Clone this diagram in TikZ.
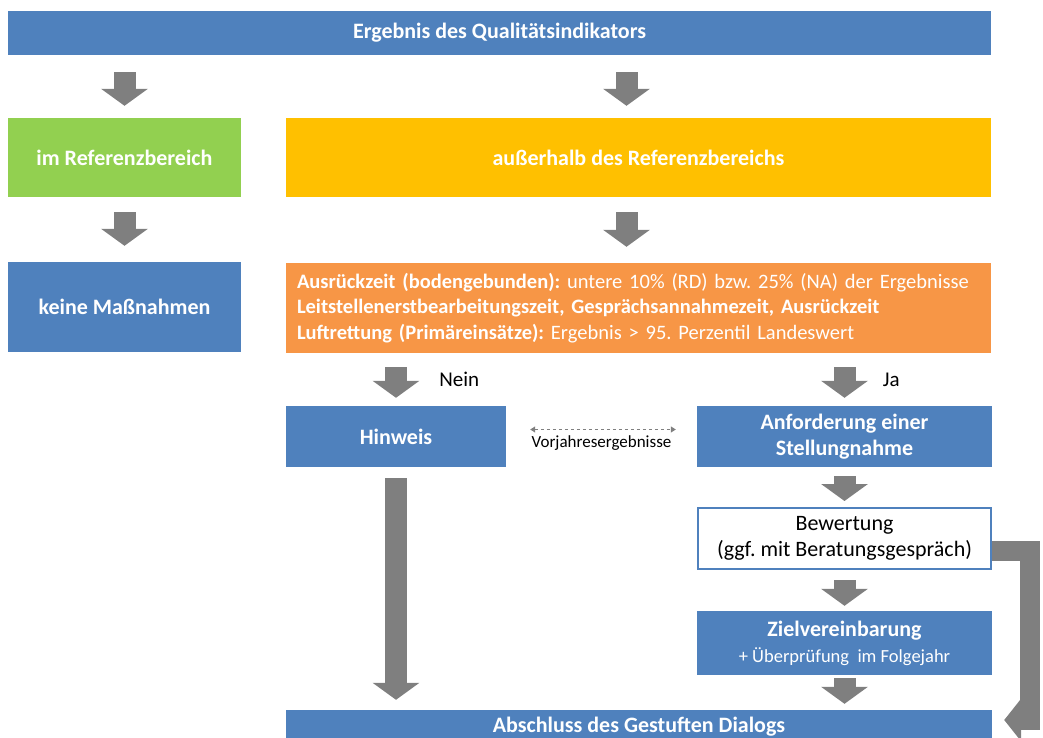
\documentclass[tikz,border=0pt]{standalone}
\usepackage{fontspec}
\setmainfont{Carlito}
\usetikzlibrary{
    arrows.meta,
    positioning
}
\definecolor{BoxBlue}{RGB}{79,129,189}
\definecolor{BoxGreen}{RGB}{146,208,80}
\definecolor{BoxYellow}{RGB}{255,192,0}
\definecolor{BoxOrange}{RGB}{247,150,70}
\definecolor{ArrowGray}{RGB}{127,127,127}

\begin{document}
\frenchspacing
\begin{tikzpicture}[
    x=1pt,
    y=-1pt,
    box/.style={
        inner sep=0pt,
        text=white,
        font=\fontsize{22}{26}\selectfont\bfseries,
        align=center
    },
    bigarrow/.style={
        draw=ArrowGray,
        line width=22pt,
        -{Triangle[width=46pt,length=17pt]}
    },
    thinlink/.style={
        draw=ArrowGray,
        dashed,
        line width=1pt,
        {Triangle[width=6pt,length=5pt]}-{Triangle[width=6pt,length=5pt]}
    }
]
\useasboundingbox (0,0) rectangle (1043,738);

% boxes
\node[box, fill=BoxBlue, minimum width=983pt, minimum height=44pt]
    (ergebnis) at (499.5,33) {Ergebnis des Qualitätsindikators};
\node[box, fill=BoxGreen, minimum width=233pt, minimum height=79pt]
    (imref) at (124.5,157.5) {im Referenzbereich};
\node[box, fill=BoxYellow, minimum width=705pt, minimum height=79pt]
    (ausser) at (638.5,157.5) {außerhalb des Referenzbereichs};
\node[box, fill=BoxBlue, minimum width=233pt, minimum height=90pt]
    (keine) at (124.5,307) {keine Maßnahmen};
\node[box, fill=BoxOrange, minimum width=705pt, minimum height=90pt,
    text width=683pt, align=left, font=\fontsize{20.5}{25.5}\selectfont]
    (kriterien) at (638.5,308)
    {\textbf{Ausrückzeit (bodengebunden):} untere 10\% (RD) bzw. 25\% (NA) der Ergebnisse\\
     \textbf{Leitstellenerstbearbeitungszeit, Gesprächsannahmezeit, Ausrückzeit}\\
     \textbf{Luftrettung (Primäreinsätze):} Ergebnis > 95. Perzentil Landeswert};
\node[box, fill=BoxBlue, minimum width=220pt, minimum height=61pt]
    (hinweis) at (396,436.5) {Hinweis};
\node[box, fill=BoxBlue, minimum width=295pt, minimum height=61pt]
    (anforderung) at (844.5,436.5) {Anforderung einer\\Stellungnahme};
\node[box, fill=white, draw=BoxBlue, line width=2pt, text=black,
    font=\fontsize{22}{26}\selectfont,
    minimum width=293pt, minimum height=61pt]
    (bewertung) at (844.5,538.5) {Bewertung\\(ggf. mit Beratungsgespräch)};
\node[box, fill=BoxBlue, minimum width=295pt, minimum height=64pt]
    (ziel) at (844.5,643)
    {Zielvereinbarung\\{\fontsize{18.5}{22}\selectfont\mdseries + Überprüfung~ im Folgejahr}};
\node[box, fill=BoxBlue, minimum width=706pt, minimum height=34pt]
    (abschluss) at (639,727) {Abschluss des Gestuften Dialogs};

% arrows
\draw[bigarrow, shorten <=17pt, shorten >=12pt] (ergebnis.south -| imref) -- (imref);
\draw[bigarrow, shorten <=17pt, shorten >=12pt]
    ([xshift=-12pt]ergebnis.south -| ausser) -- ([xshift=-12pt]ausser.north);
\draw[bigarrow, shorten <=15pt, shorten >=16pt] (imref) -- (keine);
\draw[bigarrow, shorten <=15pt, shorten >=16pt]
    ([xshift=-12pt]ausser.south) -- ([xshift=-12pt]ausser.south |- kriterien.north);
\draw[bigarrow, shorten <=14pt, shorten >=8pt] (kriterien.south -| hinweis) -- (hinweis)
    node[midway, right=29pt, text=black, font=\fontsize{21}{24}\selectfont] {Nein};
\draw[bigarrow, shorten <=14pt, shorten >=8pt] (kriterien.south -| anforderung) -- (anforderung)
    node[midway, right=24pt, text=black, font=\fontsize{21}{24}\selectfont] {Ja};
\draw[bigarrow, shorten <=11pt, shorten >=10pt] (hinweis) -- (hinweis |- abschluss.north);
\draw[bigarrow, shorten <=9pt, shorten >=6pt] (anforderung) -- (bewertung);
\draw[bigarrow, shorten <=10pt, shorten >=5pt] (bewertung) -- (ziel);
\draw[bigarrow, shorten <=3pt, shorten >=6pt] (ziel) -- (ziel |- abschluss.north);
\draw[bigarrow, line width=20pt, line join=miter, shorten >=12pt,
    -{Triangle[width=42pt,length=17pt]}]
    ([yshift=-12pt]bewertung.east) -- ++(38,0) |- ([yshift=7pt]abschluss.east);
\draw[thinlink, shorten <=24pt, shorten >=21pt]
    ([yshift=7pt]hinweis.east) -- ([yshift=7pt]anforderung.west)
    node[midway, below=2pt, text=black, font=\fontsize{17}{19}\selectfont] {Vorjahresergebnisse};

\end{tikzpicture}
\end{document}
